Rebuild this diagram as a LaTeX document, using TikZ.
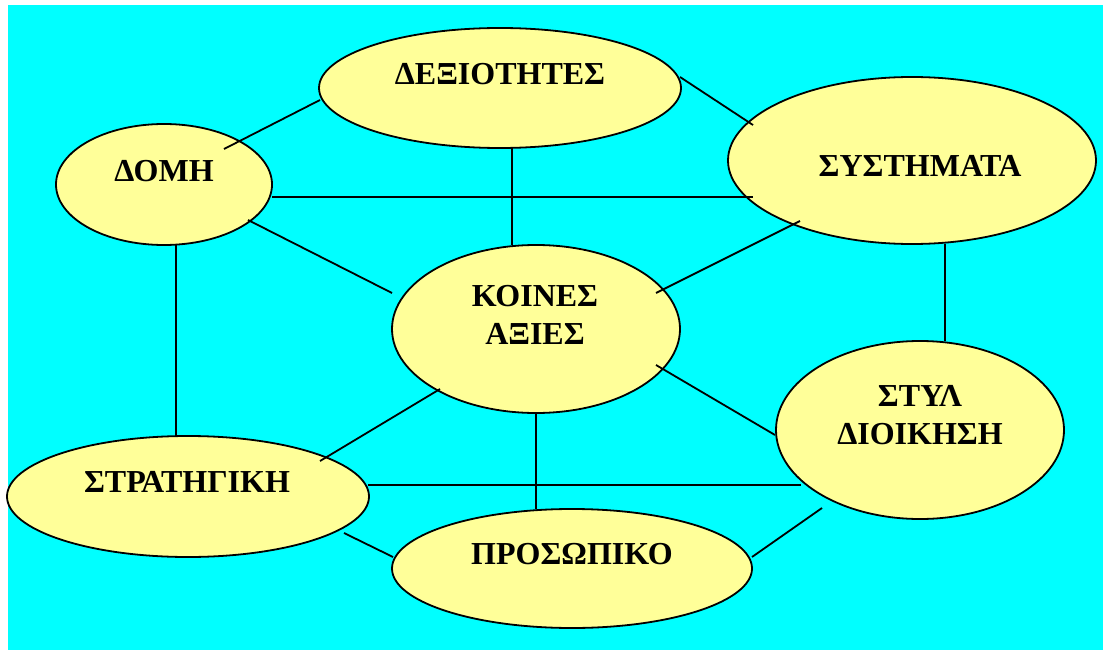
\documentclass[tikz,border=0pt]{standalone}
\usepackage{fontspec}
\setmainfont{Liberation Serif}
\usetikzlibrary{shapes.geometric}
\definecolor{bgcyan}{RGB}{0,255,255}
\definecolor{elyellow}{RGB}{255,255,153}
\tikzset{
  bubble/.style={ellipse, draw=black, fill=elyellow, line width=1.8pt, inner sep=0pt, outer sep=0pt},
  label/.style={font=\bfseries\fontsize{32}{38}\selectfont, text depth=0pt, inner sep=0pt, align=center},
  link/.style={draw=black, line width=1.8pt}
}
\begin{document}
\begin{tikzpicture}[x=1pt,y=-1pt]
\useasboundingbox (0,0) rectangle (1103,650);
\fill[white] (0,0) rectangle (1103,650);
\fill[bgcyan] (8,5) rectangle (1103,650);

% ellipses
\node[bubble, minimum width=362pt, minimum height=120pt] (dex) at (500,88) {};
\node[bubble, minimum width=216pt, minimum height=121pt] (dom) at (164,184.5) {};
\node[bubble, minimum width=368pt, minimum height=167pt] (sys) at (912,160.5) {};
\node[bubble, minimum width=288pt, minimum height=168pt] (koi) at (536,329) {};
\node[bubble, minimum width=288pt, minimum height=178pt] (sty) at (920,430) {};
\node[bubble, minimum width=362pt, minimum height=121pt] (str) at (188,496.5) {};
\node[bubble, minimum width=360pt, minimum height=119pt] (pro) at (572,568.5) {};

% connector end points
\coordinate (dom-a) at (224,149); \coordinate (dex-a) at (320,100);
\coordinate (dom-b) at (272,197); \coordinate (sys-b) at (753,197);
\coordinate (dom-c) at (248,220); \coordinate (koi-c) at (392,293);
\coordinate (dom-d) at (176,245); \coordinate (str-d) at (176,436);
\coordinate (dex-e) at (512,148); \coordinate (koi-e) at (512,245);
\coordinate (dex-f) at (680,77);  \coordinate (sys-f) at (753,125);
\coordinate (sys-g) at (800,221); \coordinate (koi-g) at (656,293);
\coordinate (sys-h) at (945,244); \coordinate (sty-h) at (945,341);
\coordinate (koi-i) at (440,389); \coordinate (str-i) at (320,461);
\coordinate (koi-j) at (656,365); \coordinate (sty-j) at (775,435);
\coordinate (koi-k) at (536,413); \coordinate (pro-k) at (536,509);
\coordinate (str-l) at (368,485); \coordinate (sty-l) at (801,485);
\coordinate (str-m) at (344,533); \coordinate (pro-m) at (393,557);
\coordinate (pro-n) at (752,557); \coordinate (sty-n) at (822,508);

% connectors
\draw[link] (dom-a) -- (dex-a);
\draw[link] (dom-b) -- (sys-b);
\draw[link] (dom-c) -- (koi-c);
\draw[link] (dom-d) -- (str-d);
\draw[link] (dex-e) -- (koi-e);
\draw[link] (dex-f) -- (sys-f);
\draw[link] (sys-g) -- (koi-g);
\draw[link] (sys-h) -- (sty-h);
\draw[link] (koi-i) -- (str-i);
\draw[link] (koi-j) -- (sty-j);
\draw[link] (koi-k) -- (pro-k);
\draw[link] (str-l) -- (sty-l);
\draw[link] (str-m) -- (pro-m);
\draw[link] (pro-n) -- (sty-n);

% labels
\node[label] (dex-t) at (500,74) {ΔΕΞΙΟΤΗΤΕΣ};
\node[label] (dom-t) at (164,171) {ΔΟΜΗ};
\node[label] (sys-t) at (920,166) {ΣΥΣΤΗΜΑΤΑ};
\node[label] (koi-t) at (535,315) {ΚΟΙΝΕΣ\\ΑΞΙΕΣ};
\node[label] (sty-t) at (920,415) {ΣΤΥΛ\\ΔΙΟΙΚΗΣΗ};
\node[label] (str-t) at (187,482) {ΣΤΡΑΤΗΓΙΚΗ};
\node[label] (pro-t) at (572,554) {ΠΡΟΣΩΠΙΚΟ};
\end{tikzpicture}
\end{document}
